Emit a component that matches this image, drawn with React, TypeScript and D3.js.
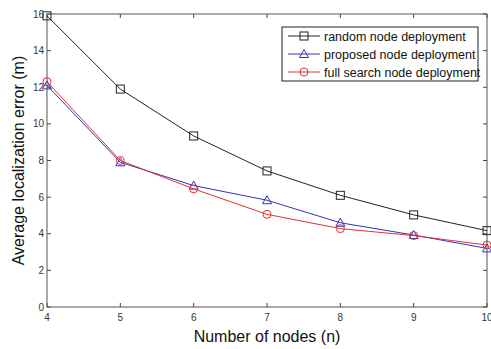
import React, { useEffect, useRef } from 'react';
import * as d3 from 'd3';

const nodes = [4, 5, 6, 7, 8, 9, 10];
const randomDeploy = [15.9, 11.9, 9.34, 7.43, 6.1, 5.03, 4.17];
const proposedDeploy = [12.1, 7.9, 6.63, 5.83, 4.6, 3.93, 3.2];
const fullSearchDeploy = [12.3, 8.0, 6.45, 5.06, 4.28, 3.9, 3.38];
const yTicks = [0, 2, 4, 6, 8, 10, 12, 14, 16];
const seriesNames = ['random node deployment', 'proposed node deployment', 'full search node deployment'];

const W = 491;
const H = 349;

export default function App() {
  const svgRef = useRef<SVGSVGElement>(null);

  useEffect(() => {
    const svg = d3.select(svgRef.current);
    svg.selectAll('*').remove();

    const margin = { top: 14, right: 4, bottom: 42, left: 47 };
    const innerW = W - margin.left - margin.right;
    const innerH = H - margin.top - margin.bottom;

    const x = d3.scaleLinear().domain([4, 10]).range([0, innerW]);
    const y = d3.scaleLinear().domain([0, 16]).range([innerH, 0]);

    svg.append('rect').attr('width', W).attr('height', H).attr('fill', '#fff');

    const g = svg.append('g').attr('transform', `translate(${margin.left},${margin.top})`);

    // tick marks (inward, all four sides)
    const tk = 4;
    nodes.forEach(v => {
      g.append('line').attr('x1', x(v)).attr('x2', x(v)).attr('y1', innerH).attr('y2', innerH - tk)
        .attr('stroke', '#444').attr('stroke-width', 1);
      g.append('line').attr('x1', x(v)).attr('x2', x(v)).attr('y1', 0).attr('y2', tk)
        .attr('stroke', '#444').attr('stroke-width', 1);
      g.append('text').attr('x', x(v)).attr('y', innerH + 14).attr('text-anchor', 'middle')
        .attr('font-family', 'Liberation Sans, Arial, sans-serif').attr('font-size', 10).attr('fill', '#333')
        .text(v);
    });
    yTicks.forEach(v => {
      g.append('line').attr('x1', 0).attr('x2', tk).attr('y1', y(v)).attr('y2', y(v))
        .attr('stroke', '#444').attr('stroke-width', 1);
      g.append('line').attr('x1', innerW).attr('x2', innerW - tk).attr('y1', y(v)).attr('y2', y(v))
        .attr('stroke', '#444').attr('stroke-width', 1);
      g.append('text').attr('x', -3).attr('y', y(v) + 3.5).attr('text-anchor', 'end')
        .attr('font-family', 'Liberation Sans, Arial, sans-serif').attr('font-size', 10).attr('fill', '#333')
        .text(v);
    });

    g.append('rect').attr('width', innerW).attr('height', innerH)
      .attr('fill', 'none').attr('stroke', '#555').attr('stroke-width', 1);

    const series = [
      { name: seriesNames[0], values: randomDeploy, color: '#222', marker: 'square' },
      { name: seriesNames[1], values: proposedDeploy, color: '#3333bb', marker: 'triangle' },
      { name: seriesNames[2], values: fullSearchDeploy, color: '#dd3333', marker: 'circle' },
    ];

    const line = d3.line<number>().x((_, i) => x(nodes[i])).y(d => y(d));

    const drawMarker = (sel: any, type: string, cx: number, cy: number, color: string) => {
      if (type === 'square') {
        sel.append('rect').attr('x', cx - 4).attr('y', cy - 4).attr('width', 8).attr('height', 8)
          .attr('fill', 'none').attr('stroke', color).attr('stroke-width', 1);
      } else if (type === 'triangle') {
        sel.append('path').attr('d', `M${cx},${cy - 4.5}L${cx + 4.5},${cy + 3.5}L${cx - 4.5},${cy + 3.5}Z`)
          .attr('fill', 'none').attr('stroke', color).attr('stroke-width', 1);
      } else {
        sel.append('circle').attr('cx', cx).attr('cy', cy).attr('r', 4)
          .attr('fill', 'none').attr('stroke', color).attr('stroke-width', 1);
      }
    };

    series.forEach(s => {
      g.append('path').datum(s.values).attr('d', line).attr('fill', 'none')
        .attr('stroke', s.color).attr('stroke-width', 1);
      s.values.forEach((v, i) => drawMarker(g, s.marker, x(nodes[i]), y(v), s.color));
    });

    // legend
    const lg = svg.append('g').attr('transform', 'translate(282,27)');
    lg.append('rect').attr('width', 196).attr('height', 54).attr('fill', '#fff')
      .attr('stroke', '#222').attr('stroke-width', 1);
    series.forEach((s, i) => {
      const ly = 9 + i * 18;
      lg.append('line').attr('x1', 6).attr('x2', 38).attr('y1', ly).attr('y2', ly)
        .attr('stroke', s.color).attr('stroke-width', 1);
      drawMarker(lg, s.marker, 22, ly, s.color);
      lg.append('text').attr('x', 42).attr('y', ly + 4.5)
        .attr('font-family', 'Liberation Sans, Arial, sans-serif').attr('font-size', 12.5).attr('fill', '#111')
        .text(s.name);
    });

    // axis titles
    svg.append('text').attr('x', margin.left + innerW / 2).attr('y', H - 7).attr('text-anchor', 'middle')
      .attr('font-family', 'Liberation Sans, Arial, sans-serif').attr('font-size', 16).attr('fill', '#111')
      .text('Number of nodes (n)');
    svg.append('text').attr('transform', `translate(24,${margin.top + innerH / 2}) rotate(-90)`)
      .attr('text-anchor', 'middle')
      .attr('font-family', 'Liberation Sans, Arial, sans-serif').attr('font-size', 16).attr('fill', '#111')
      .text('Average localization error (m)');
  }, []);

  return (
    <div style={{ position: 'fixed', left: 0, top: 0 }}>
      <svg ref={svgRef} width={W} height={H} style={{ display: 'block' }} />
    </div>
  );
}
